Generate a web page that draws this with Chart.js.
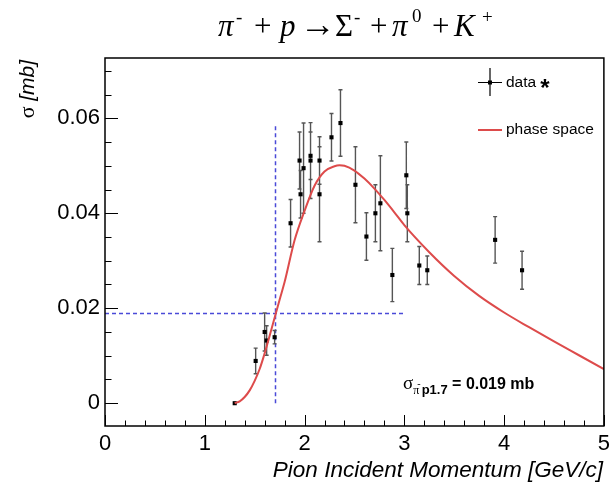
<!DOCTYPE html>
<html>
<head>
<meta charset="utf-8">
<script src="https://cdn.jsdelivr.net/npm/chart.js@4.4.0/dist/chart.umd.min.js"></script>
<style>
  html, body { margin: 0; padding: 0; background: #fff; }
  canvas { display: block; }
</style>
</head>
<body>
<canvas id="xsec" width="615" height="486"></canvas>
<script>
const momentum = [1.30, 1.51, 1.60, 1.62, 1.70, 1.86, 1.95, 1.96, 1.99, 2.06, 2.06, 2.15, 2.15, 2.27, 2.36,
                  2.51, 2.62, 2.71, 2.76, 2.88, 3.02, 3.03, 3.15, 3.23, 3.91, 4.18];
const sigma    = [0.0000, 0.0089, 0.0150, 0.0132, 0.0139, 0.0379, 0.0511, 0.0440, 0.0495, 0.0521, 0.0511, 0.0511, 0.0440, 0.0560, 0.0590,
                  0.0460, 0.0351, 0.0400, 0.0421, 0.0270, 0.0480, 0.0400, 0.0290, 0.0280, 0.0344, 0.0280];
const sigmaErr = [0.0000, 0.0027, 0.0040, 0.0031, 0.0014, 0.0050, 0.0060, 0.0050, 0.0095, 0.0050, 0.0080, 0.0050, 0.0100, 0.0050, 0.0070,
                  0.0080, 0.0050, 0.0060, 0.0100, 0.0056, 0.0070, 0.0060, 0.0040, 0.0030, 0.0049, 0.0040];

// phase space curve
const psMomentum = [1.30, 1.35, 1.40, 1.45, 1.50, 1.55, 1.60, 1.65, 1.70, 1.75, 1.80, 1.90, 2.00, 2.10, 2.20, 2.30, 2.35, 2.40,
                    2.50, 2.60, 2.70, 2.80, 2.90, 3.00, 3.25, 3.50, 3.75, 4.00, 4.25, 4.50, 4.75, 5.00];
const psSigma    = [0.0000, 0.0004, 0.0013, 0.0027, 0.0047, 0.0072, 0.0105, 0.0142, 0.0180, 0.0218, 0.0255, 0.0343, 0.0405, 0.0458, 0.0488, 0.0499, 0.0501, 0.0500,
                    0.0490, 0.0473, 0.0452, 0.0428, 0.0402, 0.0375, 0.0318, 0.0268, 0.0226, 0.0191, 0.0160, 0.0130, 0.0101, 0.0072];

const xTicks = [0, 1, 2, 3, 4, 5];
const yTicks = [0, 0.02, 0.04, 0.06];
const xMinorStep = 0.2;
const yMinorStep = 0.005;

// sigma at 1.7 GeV/c cut lines
const cutMomentum = 1.7;
const cutSigma = 0.019;
const cutLineTop = 0.0586;
const cutLineEnd = 3.0;

const SANS = '"Liberation Sans", Arial, sans-serif';
const SERIF = '"Liberation Serif", "Times New Roman", serif';

// draw a run of text pieces with their own font / vertical offset
function drawRuns(ctx, runs, x, y, align) {
    let total = 0;
    runs.forEach(r => { ctx.font = r.font; r.w = ctx.measureText(r.t).width + (r.kern || 0); total += r.w; });
    let cx = align === 'center' ? x - total / 2 : (align === 'right' ? x - total : x);
    ctx.textBaseline = 'alphabetic';
    ctx.textAlign = 'left';
    runs.forEach(r => {
        ctx.font = r.font;
        ctx.fillText(r.t, cx + (r.dx || 0), y + (r.dy || 0));
        cx += r.w;
    });
}

const errorBars = {
    id: 'errorBars',
    beforeDatasetsDraw(chart) {
        const { ctx, scales: { x, y } } = chart;
        ctx.save();

        // dashed cut lines
        ctx.strokeStyle = '#4a4ad8';
        ctx.lineWidth = 1.5;
        ctx.setLineDash([4, 3]);
        ctx.beginPath();
        const cx = Math.round(x.getPixelForValue(cutMomentum)) + 0.5;
        ctx.moveTo(cx, y.getPixelForValue(0));
        ctx.lineTo(cx, y.getPixelForValue(cutLineTop));
        const cy = Math.round(y.getPixelForValue(cutSigma)) + 0.5;
        ctx.moveTo(x.getPixelForValue(0), cy);
        ctx.lineTo(x.getPixelForValue(cutLineEnd), cy);
        ctx.stroke();
        ctx.setLineDash([]);

        // error bars
        ctx.strokeStyle = '#555';
        ctx.lineWidth = 1.4;
        ctx.beginPath();
        momentum.forEach((m, i) => {
            if (!sigmaErr[i]) return;
            const px = x.getPixelForValue(m);
            const lo = y.getPixelForValue(sigma[i] - sigmaErr[i]);
            const hi = y.getPixelForValue(sigma[i] + sigmaErr[i]);
            ctx.moveTo(px, lo); ctx.lineTo(px, hi);
            ctx.moveTo(px - 2, lo); ctx.lineTo(px + 2, lo);
            ctx.moveTo(px - 2, hi); ctx.lineTo(px + 2, hi);
        });
        ctx.stroke();
        ctx.restore();
    }
};

const frameAndText = {
    id: 'frameAndText',
    afterDraw(chart) {
        const { ctx, chartArea: a, scales: { x, y } } = chart;
        ctx.save();

        // frame
        ctx.strokeStyle = '#000';
        ctx.lineWidth = 1.5;
        ctx.strokeRect(a.left, a.top, a.right - a.left, a.bottom - a.top);

        // inside ticks, ROOT style (left + bottom only)
        ctx.lineWidth = 1;
        ctx.beginPath();
        for (let v = 0; v <= 5.0001; v += xMinorStep) {
            const px = Math.round(x.getPixelForValue(v)) + 0.5;
            const major = Math.abs(v - Math.round(v)) < 1e-6;
            ctx.moveTo(px, a.bottom);
            ctx.lineTo(px, a.bottom - (major ? 11 : 5.5));
        }
        for (let v = 0; v <= 0.0701; v += yMinorStep) {
            const py = Math.round(y.getPixelForValue(v)) + 0.5;
            const major = Math.abs(v / 0.02 - Math.round(v / 0.02)) < 1e-6;
            ctx.moveTo(a.left, py);
            ctx.lineTo(a.left + (major ? 13 : 6.5), py);
        }
        ctx.stroke();

        ctx.fillStyle = '#000';

        // title, TLatex-like spacing
        ctx.textBaseline = 'alphabetic';
        ctx.textAlign = 'left';
        const big = '31px ' + SERIF, bigIt = 'italic 31px ' + SERIF, sup = '19px ' + SERIF;
        [
            ['π', bigIt, 218, 0], ['-', sup, 236, -13], ['+', big, 254, 0], ['p', bigIt, 280, 0],
            ['→', '36px ' + SERIF, 300, 0], ['Σ', big, 335, 0], ['-', sup, 354, -13], ['+', big, 370, 0],
            ['π', bigIt, 392, 0], ['0', '19px ' + SERIF, 412, -14], ['+', big, 432, 0],
            ['K', bigIt, 454, 0], ['+', sup, 482, -13]
        ].forEach(([t, f, tx, dy]) => { ctx.font = f; ctx.fillText(t, tx, 36 + dy); });

        // axis titles
        ctx.font = 'italic 22.5px ' + SANS;
        ctx.textAlign = 'right';
        ctx.fillText('Pion Incident Momentum [GeV/c]', 603, 477);

        ctx.save();
        ctx.translate(34, 60);
        ctx.rotate(-Math.PI / 2);
        drawRuns(ctx, [
            { t: 'σ ', font: '22px ' + SERIF },
            { t: '[mb]', font: 'italic 21px ' + SANS }
        ], 0, 0, 'right');
        ctx.restore();

        // legend
        const lx = 490;
        ctx.strokeStyle = '#000';
        ctx.lineWidth = 1.2;
        ctx.beginPath();
        ctx.moveTo(lx, 68); ctx.lineTo(lx, 96);
        ctx.moveTo(478, 82.5); ctx.lineTo(502, 82.5);
        ctx.stroke();
        ctx.fillRect(lx - 2, 80.5, 4, 4);
        ctx.font = '15.5px ' + SANS;
        ctx.textAlign = 'left';
        ctx.textBaseline = 'middle';
        ctx.fillText('data', 506, 83);
        ctx.font = 'bold 24px ' + SANS;
        ctx.textAlign = 'center';
        ctx.fillText('*', 545, 89);

        ctx.strokeStyle = '#dd4b4b';
        ctx.lineWidth = 2;
        ctx.beginPath();
        ctx.moveTo(478, 130); ctx.lineTo(502, 130);
        ctx.stroke();
        ctx.font = '15.5px ' + SANS;
        ctx.textAlign = 'left';
        ctx.fillText('phase space', 506, 130);

        // annotation
        drawRuns(ctx, [
            { t: 'σ', font: '19px ' + SERIF },
            { t: 'π', font: '12px ' + SERIF, dy: 5 },
            { t: '-', font: '10px ' + SERIF, dy: -2, dx: -2, kern: -1 },
            { t: 'p1.7', font: 'bold 13px ' + SANS, dy: 5 },
            { t: ' = 0.019 mb', font: 'bold 16px ' + SANS }
        ], 403, 389, 'left');

        ctx.restore();
    }
};

new Chart(document.getElementById('xsec'), {
    type: 'scatter',
    data: {
        datasets: [
            {
                type: 'line',
                label: 'phase space',
                data: psMomentum.map((m, i) => ({ x: m, y: psSigma[i] })),
                borderColor: '#dd4b4b',
                borderWidth: 2,
                pointRadius: 0,
                fill: false,
                cubicInterpolationMode: 'monotone'
            },
            {
                label: 'data',
                data: momentum.map((m, i) => ({ x: m, y: sigma[i] })),
                pointStyle: 'rect',
                pointRadius: 2.9,
                backgroundColor: '#000',
                borderColor: '#000',
                borderWidth: 0
            }
        ]
    },
    options: {
        responsive: false,
        animation: false,
        layout: { padding: { top: 58, right: 10, left: 0, bottom: 0 } },
        plugins: {
            legend: { display: false },
            tooltip: { enabled: false }
        },
        scales: {
            x: {
                type: 'linear',
                min: 0,
                max: 5,
                afterBuildTicks: s => { s.ticks = xTicks.map(v => ({ value: v })); },
                afterFit: s => { s.height = 60; },
                grid: { display: false, drawTicks: false },
                border: { display: false },
                ticks: {
                    color: '#000',
                    font: { family: SANS, size: 22 },
                    padding: 5,
                    maxRotation: 0,
                    autoSkip: false,
                    callback: v => String(v)
                }
            },
            y: {
                type: 'linear',
                min: -0.0048,
                max: 0.0727,
                afterBuildTicks: s => { s.ticks = yTicks.map(v => ({ value: v })); },
                afterFit: s => { s.width = 105; },
                grid: { display: false, drawTicks: false },
                border: { display: false },
                ticks: {
                    color: '#000',
                    font: { family: SANS, size: 22 },
                    padding: 5,
                    autoSkip: false,
                    callback: v => (v === 0 ? '0' : v.toFixed(2))
                }
            }
        }
    },
    plugins: [errorBars, frameAndText]
});
</script>
</body>
</html>
